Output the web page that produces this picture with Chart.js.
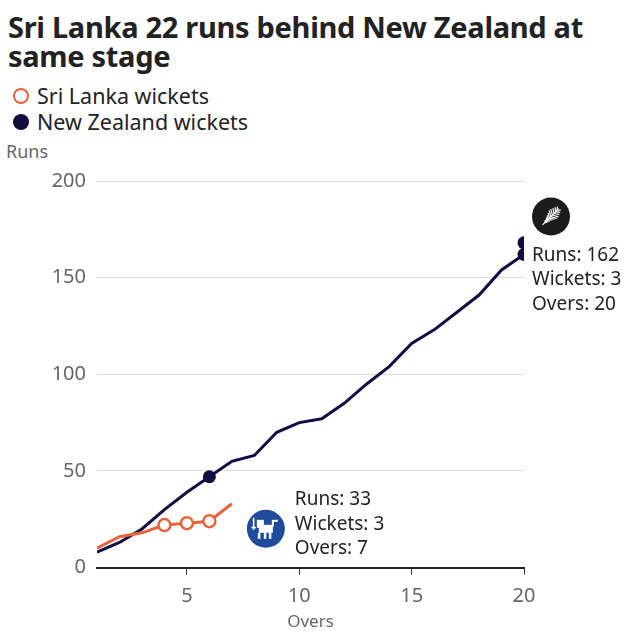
<!DOCTYPE html>
<html>
<head>
<meta charset="utf-8">
<script src="https://cdn.jsdelivr.net/npm/chart.js@4"></script>
<style>
  html, body { margin: 0; padding: 0; background: #fff; }
  #wrap { position: relative; width: 640px; height: 640px; overflow: hidden; font-family: "Noto Sans", "Open Sans", sans-serif; }
  #title { position: absolute; left: 8px; top: 12px; width: 625px; font-weight: bold; font-size: 29px; line-height: 29px; color: #222; letter-spacing: -0.3px; }
  .leg { position: absolute; left: 13px; font-size: 21.5px; color: #222; line-height: 26px; display: flex; align-items: center; }
  .leg .m { width: 16px; height: 16px; border-radius: 50%; margin-right: 8px; box-sizing: border-box; }
  #runs { position: absolute; left: 6px; top: 139px; font-size: 18px; color: #666; }
  canvas { position: absolute; left: 0; top: 0; }
</style>
</head>
<body>
<div id="wrap">
  <div id="title">Sri Lanka 22 runs behind New Zealand at same stage</div>
  <div class="leg" style="top:83px"><span class="m" style="border:2.5px solid #e5643c;background:#fff"></span>Sri Lanka wickets</div>
  <div class="leg" style="top:109px"><span class="m" style="background:#130c40"></span>New Zealand wickets</div>
  <div id="runs">Runs</div>
  <canvas id="c" width="640" height="640"></canvas>
</div>
<script>
// ---- data ----
const nzOvers = [1,2,3,4,5,6,7,8,9,10,11,12,13,14,15,16,17,18,19,20];
const nzRuns  = [8,13,20,30,39,47,55,58,70,75,77,85,95,104,116,123,132,141,154,162];
const slOvers = [1,2,3,4,5,6,7];
const slRuns  = [10,16,18,22,23,24,33];
const slWicketOvers = [4,5,6];
const slWicketRuns  = [22,23,24];
const nzWicketOvers = [6,20,20];
const nzWicketRuns  = [47,162,168];
const xTicks = [5,10,15,20];
const yTicks = [0,50,100,150,200];
const nzLabel = ["Runs: 162","Wickets: 3","Overs: 20"];
const slLabel = ["Runs: 33","Wickets: 3","Overs: 7"];

const SL = '#e5643c', NZ = '#130c40';
const FONT = '"Noto Sans", "Open Sans", sans-serif';
const pts = (xs, ys) => xs.map((x,i)=>({x, y: ys[i]}));

const annot = {
  id: 'annot',
  afterDatasetsDraw(chart) {
    const {ctx, scales:{x, y}} = chart;
    ctx.save();
    ctx.font = '19px ' + FONT;
    ctx.fillStyle = '#222';
    ctx.textBaseline = 'middle';
    ctx.textAlign = 'left';
    // NZ
    const nx = x.getPixelForValue(20), ny = y.getPixelForValue(162);
    nzLabel.forEach((t,i)=>ctx.fillText(t, nx+8, ny+1+i*24.5));
    const fx = nx+27, fy = ny-38;
    ctx.fillStyle = '#1c1c1c';
    ctx.beginPath(); ctx.arc(fx, fy, 19, 0, Math.PI*2); ctx.fill();
    ctx.strokeStyle = '#fff'; ctx.lineWidth = 1.2;
    ctx.save(); ctx.translate(fx, fy); ctx.rotate(-Math.PI/4);
    ctx.beginPath(); ctx.moveTo(-12,0); ctx.lineTo(11,0); ctx.stroke();
    for (let k=-9;k<=9;k+=2.2){
      const len = 6*(1-Math.abs(k-1)/13);
      ctx.beginPath(); ctx.moveTo(k,0); ctx.lineTo(k+3,-len); ctx.stroke();
      ctx.beginPath(); ctx.moveTo(k,0); ctx.lineTo(k+3,len); ctx.stroke();
    }
    ctx.restore();
    // SL
    ctx.fillStyle = '#222';
    const sx = x.getPixelForValue(7), sy = y.getPixelForValue(33);
    slLabel.forEach((t,i)=>ctx.fillText(t, sx+63, sy-4+i*24.5));
    const lx = sx+34, ly = sy+25;
    ctx.fillStyle = '#1f4c9a';
    ctx.beginPath(); ctx.arc(lx, ly, 19, 0, Math.PI*2); ctx.fill();
    ctx.fillStyle = '#fff';
    ctx.fillRect(lx-7, ly-4, 14, 8);
    ctx.fillRect(lx-9, ly-9, 7, 8);
    ctx.fillRect(lx-8, ly+4, 2.5, 6);
    ctx.fillRect(lx-2, ly+4, 2.5, 6);
    ctx.fillRect(lx+3, ly+4, 2.5, 6);
    ctx.fillRect(lx+6, ly-8, 2, 6);
    ctx.fillRect(lx+6, ly-9, 6, 2);
    ctx.fillRect(lx-13, ly-11, 1.6, 12);
    ctx.fillRect(lx-14.5, ly-2, 4.5, 1.5);
    ctx.restore();
  }
};

new Chart(document.getElementById('c'), {
  type: 'line',
  data: {
    datasets: [
      { data: pts(slWicketOvers, slWicketRuns), showLine: false, pointRadius: 6, pointBorderWidth: 2.5,
        pointBackgroundColor: '#fff', pointBorderColor: SL, order: 0 },
      { data: pts(nzWicketOvers, nzWicketRuns), showLine: false, pointRadius: 6.5, pointBorderWidth: 0,
        pointBackgroundColor: NZ, pointBorderColor: NZ, order: 1 },
      { data: pts(slOvers, slRuns), borderColor: SL, borderWidth: 3, pointRadius: 0, tension: 0, order: 2 },
      { data: pts(nzOvers, nzRuns), borderColor: NZ, borderWidth: 3, pointRadius: 0, tension: 0, order: 3 }
    ]
  },
  plugins: [annot],
  options: {
    responsive: false,
    animation: false,
    events: [],
    layout: { padding: { top: 181, right: 116, bottom: 8, left: 0 } },
    plugins: { legend: { display: false }, tooltip: { enabled: false } },
    scales: {
      x: {
        type: 'linear', min: 1, max: 20,
        afterBuildTicks: s => { s.ticks = xTicks.map(v=>({value:v})); },
        grid: { drawOnChartArea: false, drawTicks: true, tickLength: 7, color: '#333', tickWidth: 1 },
        border: { display: true, color: '#222', width: 2 },
        ticks: { color: '#666', font: { size: 20, family: FONT }, padding: 10, maxRotation: 0 },
        title: { display: true, text: 'Overs', color: '#666', font: { size: 17, family: FONT }, padding: { top: -7, bottom: 0 } }
      },
      y: {
        min: 0, max: 200,
        afterBuildTicks: s => { s.ticks = yTicks.map(v=>({value:v})); },
        afterFit: s => { s.width = 97; },
        grid: { color: '#dcdcdc', drawTicks: false, lineWidth: 1 },
        border: { display: false },
        ticks: { color: '#666', font: { size: 20, family: FONT }, padding: 11 }
      }
    }
  }
});
</script>
</body>
</html>
